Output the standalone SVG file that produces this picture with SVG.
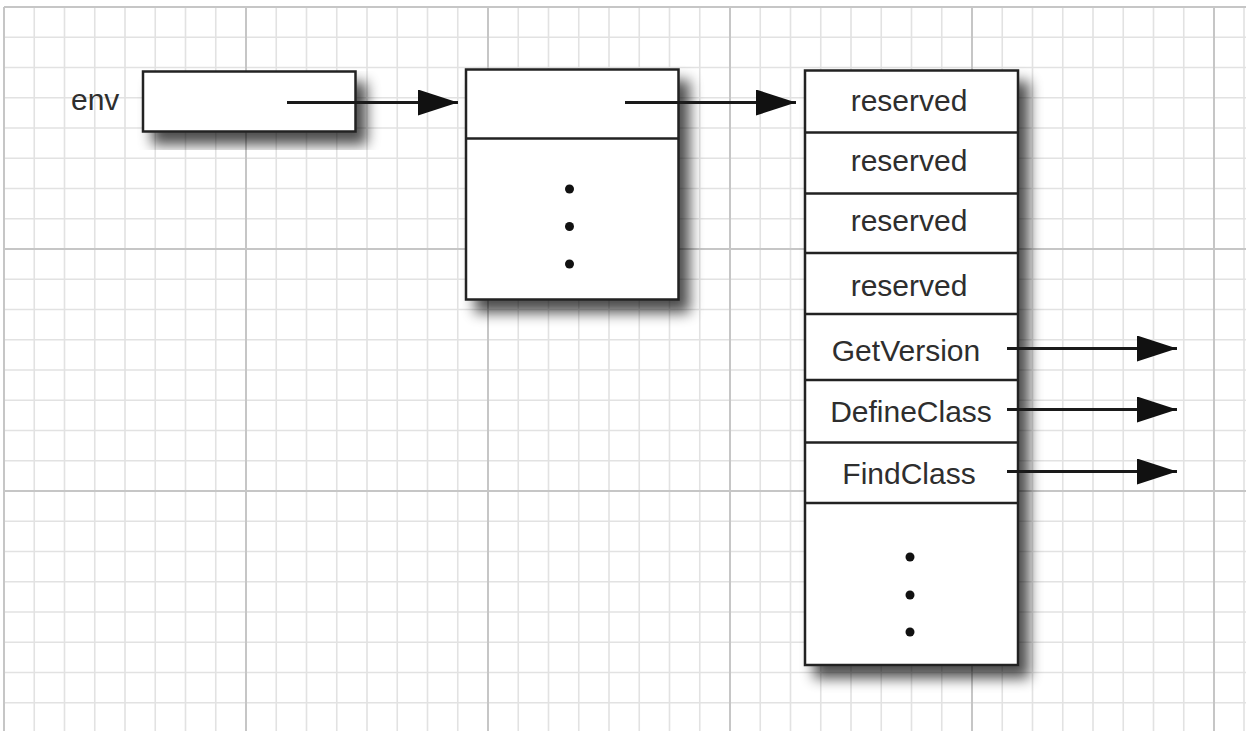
<svg xmlns="http://www.w3.org/2000/svg" width="1246" height="731" viewBox="0 0 1246 731">
<defs>
<style>
.minor{stroke:#e2e2e2;stroke-width:1.6;fill:none}
.major{stroke:#c6c6c6;stroke-width:2;fill:none}
.box{fill:#fff;stroke:#222;stroke-width:2.5}
.div{stroke:#222;stroke-width:2.5;fill:none}
.lbl{font-family:"Liberation Sans",Arial,sans-serif;font-size:30px;fill:#2e2e2e}
.mid{text-anchor:middle}
.conn{stroke:#1a1a1a;stroke-width:3;fill:none}
.dot{fill:#111}
</style>
<marker id="ah" viewBox="0 0 40 26" refX="40" refY="13" markerWidth="40" markerHeight="26" markerUnits="userSpaceOnUse" orient="auto">
<path d="M0,0 L40,13 L0,26 Z" fill="#111"/>
</marker>
<filter id="shadow" x="-20%" y="-20%" width="150%" height="150%">
<feGaussianBlur in="SourceAlpha" stdDeviation="7"/>
<feOffset dx="10" dy="12" result="b"/>
<feComponentTransfer><feFuncA type="linear" slope="0.7"/></feComponentTransfer>
<feMerge><feMergeNode/><feMergeNode in="SourceGraphic"/></feMerge>
</filter>
</defs>
<rect x="0" y="0" width="1246" height="731" fill="#fff"/>
<g id="grid">
<path class="minor" d="M34.25,7V731M64.5,7V731M94.75,7V731M125,7V731M155.25,7V731M185.5,7V731M215.75,7V731M276.25,7V731M306.5,7V731M336.75,7V731M367,7V731M397.25,7V731M427.5,7V731M457.75,7V731M518.25,7V731M548.5,7V731M578.75,7V731M609,7V731M639.25,7V731M669.5,7V731M699.75,7V731M760.25,7V731M790.5,7V731M820.75,7V731M851,7V731M881.25,7V731M911.5,7V731M941.75,7V731M1002.25,7V731M1032.5,7V731M1062.75,7V731M1093,7V731M1123.25,7V731M1153.5,7V731M1183.75,7V731M1244,7V731"/>
<path class="minor" d="M4,37.25H1246M4,67.5H1246M4,97.75H1246M4,128H1246M4,158.25H1246M4,188.5H1246M4,218.75H1246M4,279.25H1246M4,309.5H1246M4,339.75H1246M4,370H1246M4,400.25H1246M4,430.5H1246M4,460.75H1246M4,521.25H1246M4,551.5H1246M4,581.75H1246M4,612H1246M4,642.25H1246M4,672.5H1246M4,702.75H1246"/>
<path class="major" d="M4,7V731M246,7V731M488,7V731M730,7V731M972,7V731M1214,7V731M4,7H1246M4,249H1246M4,491H1246"/>
</g>
<g id="env">
<text class="lbl" x="71" y="110">env</text>
<rect class="box" x="143" y="71.5" width="212.5" height="60" filter="url(#shadow)"/>
</g>
<g id="table">
<rect class="box" x="466" y="69.5" width="212.5" height="230" filter="url(#shadow)"/>
<path class="div" d="M466,138.5H678.5"/>
<circle class="dot" cx="569.5" cy="189" r="4.5"/>
<circle class="dot" cx="569.5" cy="226.5" r="4.5"/>
<circle class="dot" cx="569.5" cy="264" r="4.5"/>
</g>
<g id="functions">
<rect class="box" x="805" y="70.5" width="213" height="594.5" filter="url(#shadow)"/>
<path class="div" d="M805,132.5H1018M805,193.5H1018M805,253H1018M805,314H1018M805,380H1018M805,442.5H1018M805,503H1018"/>
<text class="lbl mid" x="909" y="110.5">reserved</text>
<text class="lbl mid" x="909" y="170.5">reserved</text>
<text class="lbl mid" x="909" y="231">reserved</text>
<text class="lbl mid" x="909" y="295.5">reserved</text>
<text class="lbl mid" x="906" y="360.5">GetVersion</text>
<text class="lbl mid" x="911" y="421.5">DefineClass</text>
<text class="lbl mid" x="909" y="484">FindClass</text>
<circle class="dot" cx="910" cy="557" r="4.5"/>
<circle class="dot" cx="910" cy="595" r="4.5"/>
<circle class="dot" cx="910" cy="632" r="4.5"/>
</g>
<g id="connectors">
<path class="conn" d="M287,102.5H458" marker-end="url(#ah)"/>
<path class="conn" d="M625,102.5H796" marker-end="url(#ah)"/>
<path class="conn" d="M1007,348.5H1177" marker-end="url(#ah)"/>
<path class="conn" d="M1007,409.5H1177" marker-end="url(#ah)"/>
<path class="conn" d="M1007,471.5H1177" marker-end="url(#ah)"/>
</g>
</svg>
